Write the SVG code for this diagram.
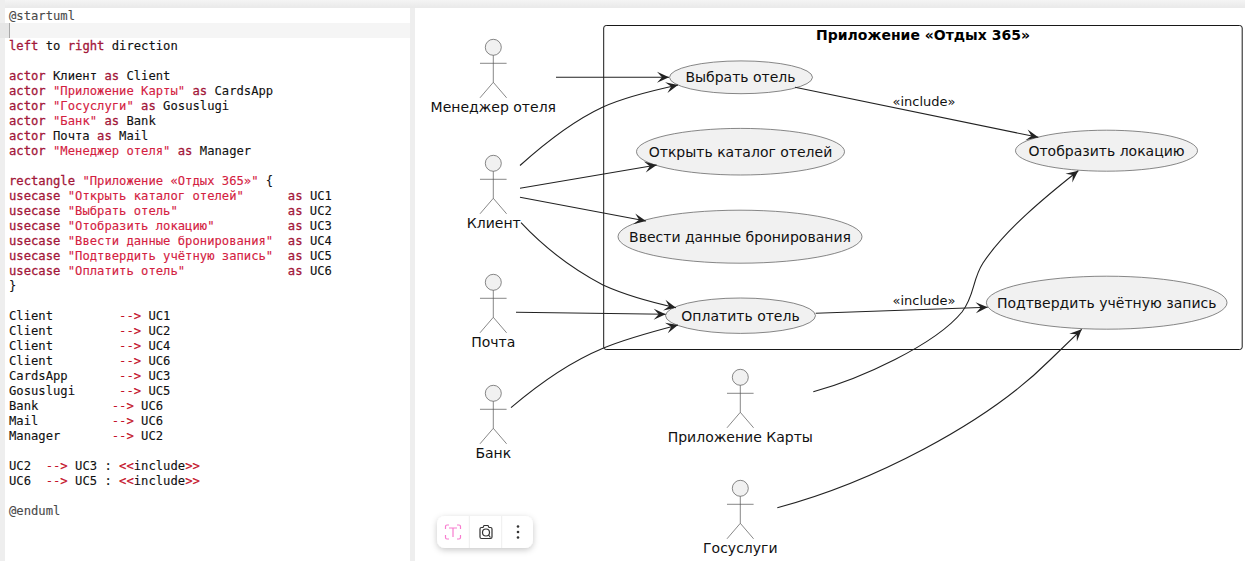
<svg xmlns="http://www.w3.org/2000/svg" width="1245" height="561" viewBox="0 0 1245 561">
<style>
.code{font-family:"DejaVu Sans Mono","Liberation Mono",monospace;font-size:12.2px;fill:#111;white-space:pre;stroke:#111;stroke-width:.12}
.k{fill:#a3173a;stroke:#a3173a;stroke-width:.3}.s{fill:#d4213f;stroke:#d4213f;stroke-width:.12}.o{fill:#c4122a;stroke:#c4122a}.g{fill:#4a4a4a;stroke:#4a4a4a}
.lbl{font-family:"DejaVu Sans",sans-serif;font-size:14px;fill:#111;text-anchor:middle}
.inc{font-family:"DejaVu Sans",sans-serif;font-size:13px;fill:#111;text-anchor:middle}
.ttl{font-family:"DejaVu Sans",sans-serif;font-size:14px;font-weight:bold;fill:#000;text-anchor:middle}
.uc ellipse{fill:#f1f1f1;stroke:#555;stroke-width:.7}
.ah{fill:#f1f1f1;stroke:#555;stroke-width:.7}
.al{fill:none;stroke:#555;stroke-width:.7}
.con path{fill:none;stroke:#222;stroke-width:1.1;marker-end:url(#arr)}
</style>
<defs>
<marker id="arr" markerUnits="userSpaceOnUse" markerWidth="16" markerHeight="14" refX="13" refY="7" orient="auto">
<path d="M13,7 L1,1.500 L6,7 L1,12.500 Z" fill="#222"/>
</marker>
<linearGradient id="top" x1="0" y1="0" x2="0" y2="1"><stop offset="0" stop-color="#f4f4f4"/><stop offset="1" stop-color="#e9e9e9"/></linearGradient>
<filter id="sh" x="-20%" y="-30%" width="140%" height="170%"><feDropShadow dx="0" dy="2" stdDeviation="3" flood-color="#000" flood-opacity=".22"/></filter>
<g id="actor"><circle class="ah" cx="0" cy="0" r="8"/><path class="al" d="M0,8 V35 M-13.300,16 H13.300 M-13.300,50.500 L0,35 L13.300,50.500"/></g>
</defs>
<rect width="1245" height="561" fill="#fff"/>
<rect x="0" y="0" width="5" height="561" fill="#eee"/>
<rect x="410" y="8" width="5" height="553" fill="#eee"/>
<rect x="5" y="0" width="1240" height="8" fill="url(#top)"/>
<rect x="0" y="23" width="410" height="15" fill="#f5f5f5"/>
<rect x="0" y="23" width="9" height="15" fill="#e6e6e6"/>
<rect x="9" y="23" width="1" height="15" fill="#a8a8a8"/>
<g id="code">
<text class="code" x="9" y="20"><tspan class="g">@startuml</tspan></text>
<text class="code" x="9" y="50"><tspan class="k">left</tspan> to <tspan class="k">right</tspan> direction</text>
<text class="code" x="9" y="80"><tspan class="k">actor</tspan> Клиент <tspan class="k">as</tspan> Client</text>
<text class="code" x="9" y="95"><tspan class="k">actor</tspan> <tspan class="s">"Приложение Карты"</tspan> <tspan class="k">as</tspan> CardsApp</text>
<text class="code" x="9" y="110"><tspan class="k">actor</tspan> <tspan class="s">"Госуслуги"</tspan> <tspan class="k">as</tspan> Gosuslugi</text>
<text class="code" x="9" y="125"><tspan class="k">actor</tspan> <tspan class="s">"Банк"</tspan> <tspan class="k">as</tspan> Bank</text>
<text class="code" x="9" y="140"><tspan class="k">actor</tspan> Почта <tspan class="k">as</tspan> Mail</text>
<text class="code" x="9" y="155"><tspan class="k">actor</tspan> <tspan class="s">"Менеджер отеля"</tspan> <tspan class="k">as</tspan> Manager</text>
<text class="code" x="9" y="185"><tspan class="k">rectangle</tspan> <tspan class="s">"Приложение «Отдых 365»"</tspan> {</text>
<text class="code" x="9" y="200"><tspan class="k">usecase</tspan> <tspan class="s">"Открыть каталог отелей"</tspan>      <tspan class="k">as</tspan> UC1</text>
<text class="code" x="9" y="215"><tspan class="k">usecase</tspan> <tspan class="s">"Выбрать отель"</tspan>               <tspan class="k">as</tspan> UC2</text>
<text class="code" x="9" y="230"><tspan class="k">usecase</tspan> <tspan class="s">"Отобразить локацию"</tspan>          <tspan class="k">as</tspan> UC3</text>
<text class="code" x="9" y="245"><tspan class="k">usecase</tspan> <tspan class="s">"Ввести данные бронирования"</tspan>  <tspan class="k">as</tspan> UC4</text>
<text class="code" x="9" y="260"><tspan class="k">usecase</tspan> <tspan class="s">"Подтвердить учётную запись"</tspan>  <tspan class="k">as</tspan> UC5</text>
<text class="code" x="9" y="275"><tspan class="k">usecase</tspan> <tspan class="s">"Оплатить отель"</tspan>              <tspan class="k">as</tspan> UC6</text>
<text class="code" x="9" y="290">}</text>
<text class="code" x="9" y="320">Client         <tspan class="o">--&gt;</tspan> UC1</text>
<text class="code" x="9" y="335">Client         <tspan class="o">--&gt;</tspan> UC2</text>
<text class="code" x="9" y="350">Client         <tspan class="o">--&gt;</tspan> UC4</text>
<text class="code" x="9" y="365">Client         <tspan class="o">--&gt;</tspan> UC6</text>
<text class="code" x="9" y="380">CardsApp       <tspan class="o">--&gt;</tspan> UC3</text>
<text class="code" x="9" y="395">Gosuslugi      <tspan class="o">--&gt;</tspan> UC5</text>
<text class="code" x="9" y="410">Bank          <tspan class="o">--&gt;</tspan> UC6</text>
<text class="code" x="9" y="425">Mail          <tspan class="o">--&gt;</tspan> UC6</text>
<text class="code" x="9" y="440">Manager       <tspan class="o">--&gt;</tspan> UC2</text>
<text class="code" x="9" y="470">UC2  <tspan class="o">--&gt;</tspan> UC3 : <tspan class="o">&lt;&lt;</tspan>include<tspan class="o">&gt;&gt;</tspan></text>
<text class="code" x="9" y="485">UC6  <tspan class="o">--&gt;</tspan> UC5 : <tspan class="o">&lt;&lt;</tspan>include<tspan class="o">&gt;&gt;</tspan></text>
<text class="code" x="9" y="515"><tspan class="g">@enduml</tspan></text>
</g>
<g id="system">
<rect x="603.7" y="25.500" width="638.500" height="324" rx="2.500" fill="#fff" stroke="#181818" stroke-width="1"/>
<text class="ttl" x="923" y="39.500">Приложение «Отдых 365»</text>
</g>
<g id="UC2" class="uc"><ellipse cx="741" cy="77.300" rx="71.500" ry="16.400"/><text class="lbl" x="740.500" y="82">Выбрать отель</text></g>
<g id="UC1" class="uc"><ellipse cx="740.500" cy="151.700" rx="104" ry="23.300"/><text class="lbl" x="740.500" y="157">Открыть каталог отелей</text></g>
<g id="UC4" class="uc"><ellipse cx="740" cy="236.700" rx="122" ry="26.500"/><text class="lbl" x="740" y="242">Ввести данные бронирования</text></g>
<g id="UC6" class="uc"><ellipse cx="740.500" cy="315.700" rx="75" ry="17.700"/><text class="lbl" x="740.500" y="321">Оплатить отель</text></g>
<g id="UC3" class="uc"><ellipse cx="1106.500" cy="150.700" rx="91" ry="20.500"/><text class="lbl" x="1106.500" y="156">Отобразить локацию</text></g>
<g id="UC5" class="uc"><ellipse cx="1106.700" cy="302.700" rx="120.300" ry="26.500"/><text class="lbl" x="1106.700" y="308">Подтвердить учётную запись</text></g>
<g id="Manager"><use href="#actor" x="493.300" y="47.300"/><text class="lbl" x="493.300" y="112">Менеджер отеля</text></g>
<g id="Client"><use href="#actor" x="493.300" y="163.300"/><text class="lbl" x="493.800" y="228">Клиент</text></g>
<g id="Mail"><use href="#actor" x="493.300" y="282.300"/><text class="lbl" x="493.300" y="347">Почта</text></g>
<g id="Bank"><use href="#actor" x="493.300" y="393.300"/><text class="lbl" x="493.300" y="458">Банк</text></g>
<g id="CardsApp"><use href="#actor" x="740.300" y="377.300"/><text class="lbl" x="740.300" y="442">Приложение Карты</text></g>
<g id="Gosuslugi"><use href="#actor" x="740.300" y="488.300"/><text class="lbl" x="740.300" y="553">Госуслуги</text></g>
<g id="connectors" class="con">
<path d="M556,77.300 H669"/>
<path d="M520,165.500 C545,143 575,120 603,107 C625,97 655,90 678,85"/>
<path d="M520,188.300 L656.700,165"/>
<path d="M520,197.300 L646,221"/>
<path d="M521,222.700 C540,243 565,265 603,285 C625,295 650,302 676,307.700"/>
<path d="M516,312.300 L665.700,314.300"/>
<path d="M511,407.700 C540,383 570,362 603,348.300 C625,339 655,331 678,325"/>
<path d="M795,87.300 L1038.300,137.300"/>
<path d="M815.700,313.300 L987.700,307.300"/>
<path d="M813.300,391.700 C860,379 935,345 962,312 C975,295 972,280 983,263 C1005,230 1045,197 1078.300,170.700"/>
<path d="M777.300,507.700 C870,483 985,425 1050,360 L1081.700,329.300"/>
</g>
<g id="labels">
<text class="inc" x="924" y="106">«include»</text>
<text class="inc" x="924" y="305">«include»</text>
</g>
<g id="toolbar">
<rect x="437" y="516" width="96" height="32" rx="8" fill="#fff" filter="url(#sh)"/>
<path d="M469.300,516 V548 M501.700,516 V548" stroke="#eee" stroke-width="1"/>
<path d="M449,525 H447 Q445.500,525 445.500,526.500 V529 M457,525 H459 Q460.500,525 460.500,526.500 V529 M445.500,535 V537.500 Q445.500,539 447,539 H449 M460.500,535 V537.500 Q460.500,539 459,539 H457 M449,528 H457 M453,528 V537" fill="none" stroke="#f77ccf" stroke-width="1.200"/>
<path d="M480,529 Q480,527.500 481.500,527.500 H483 L484,525.500 H488 L489,527.500 H490.500 Q492,527.500 492,529 V537 Q492,538.500 490.500,538.500 H481.500 Q480,538.500 480,537 Z" fill="none" stroke="#333" stroke-width="1.200"/>
<circle cx="486" cy="532.500" r="3.500" fill="none" stroke="#333" stroke-width="1.200"/>
<path d="M488.500,535 L490.500,537.500" stroke="#333" stroke-width="1.200"/>
<circle cx="518" cy="526.500" r="1.300" fill="#333"/><circle cx="518" cy="532" r="1.300" fill="#333"/><circle cx="518" cy="537.500" r="1.300" fill="#333"/>
</g>
</svg>
